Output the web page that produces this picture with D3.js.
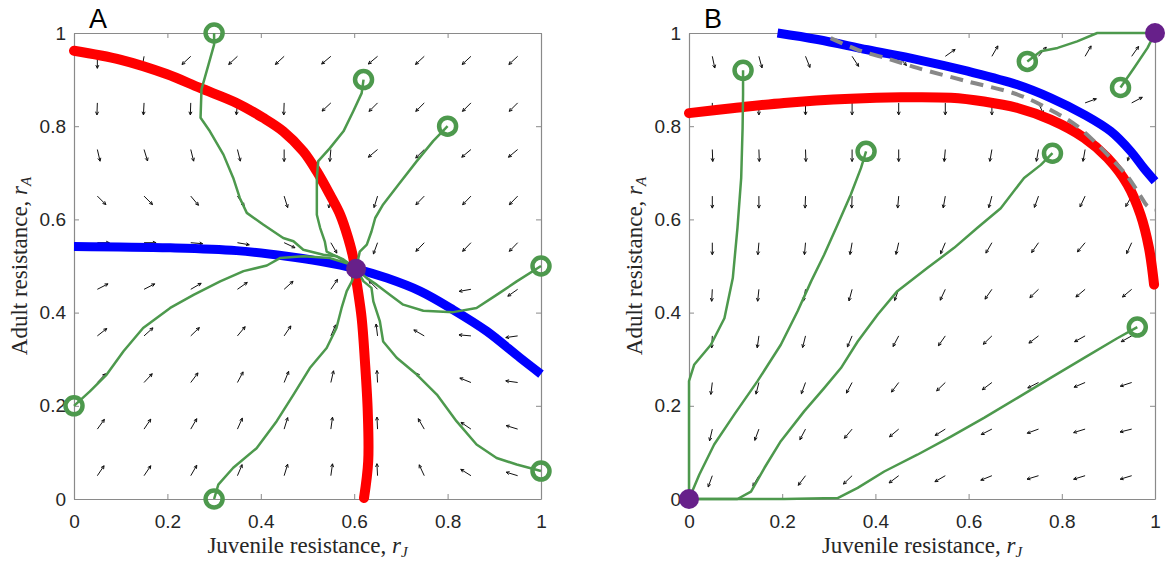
<!DOCTYPE html>
<html>
<head>
<meta charset="utf-8">
<script src="https://cdn.jsdelivr.net/npm/d3@7"></script>
<style>
body { margin: 0; background: #fff; }
</style>
</head>
<body>
<svg id="canvas" width="1168" height="563"></svg>
<script>
// tick marks and labels, same for both axes of both panels
let tickValues = [0, 0.2, 0.4, 0.6, 0.8, 1]
let tickLabels = ['0', '0.2', '0.4', '0.6', '0.8', '1']

// quiver grid (tails of the arrows)
let gridCols = [0.05, 0.15, 0.25, 0.35, 0.45, 0.55, 0.65, 0.75, 0.85, 0.95]
let gridRows = [0.95, 0.85, 0.75, 0.65, 0.55, 0.45, 0.35, 0.25, 0.15, 0.05]

// arrow directions in degrees (0 = right, 90 = up), one row per gridRows entry
let anglesA = [
  [-90, -100, -137, -137, -137, -140, -140, -137, -137, -137],
  [-92, -93, -92, -95, -92, -137, -135, -135, -135, -135],
  [-77, -73, -76, -76, -90, -95, -140, -135, -140, -140],
  [-45, -45, -50, -56, -73, -100, -107, -134, -134, -134],
  [0, 0, -5, -10, -25, -60, -110, -134, -134, -134],
  [27, 27, 30, 35, 42, 56, 135, 178, -170, -145],
  [38, 42, 44, 50, 56, 66, 97, 150, 175, -172],
  [47, 47, 53, 62, 68, 77, 93, 130, 158, 172],
  [54, 56, 60, 66, 73, 82, 93, 120, 146, 163],
  [56, 56, 60, 67, 73, 82, 93, 115, 148, 163]
]
let anglesB = [
  [-78, -75, -68, -57, -50, 35, 60, 50, 60, 55],
  [-90, -90, -90, -90, -90, -90, -90, -66, 20, 28],
  [-88, -88, -88, -90, -90, -95, -100, -100, -100, -110],
  [-90, -90, -92, -92, -95, -100, -105, -110, -115, -120],
  [-90, -95, -95, -100, -103, -113, -120, -125, -130, -115],
  [-93, -96, -100, -105, -110, -115, -125, -136, -140, -140],
  [-93, -98, -104, -113, -118, -125, -136, -143, -151, -151],
  [-97, -104, -110, -118, -127, -136, -143, -153, -157, -162],
  [-103, -110, -118, -130, -140, -148, -153, -160, -163, -166],
  [-110, -120, -127, -136, -143, -150, -158, -163, -163, -163]
]

// panel A curves
let redA = [[0, 0.962], [0.0985, 0.943], [0.198, 0.912], [0.27, 0.882], [0.348, 0.85], [0.405, 0.818],
  [0.448, 0.789], [0.491, 0.746], [0.52, 0.703], [0.548, 0.653], [0.57, 0.61], [0.587, 0.56],
  [0.598, 0.517], [0.605, 0.467], [0.616, 0.388], [0.623, 0.295], [0.629, 0.188], [0.63, 0.081], [0.621, 0.002]]
let blueA = [[0, 0.542], [0.206, 0.539], [0.348, 0.533], [0.455, 0.521], [0.527, 0.51], [0.604, 0.494],
  [0.67, 0.474], [0.741, 0.446], [0.812, 0.406], [0.884, 0.36], [0.955, 0.303], [1, 0.268]]
let fixedA = [[0.604, 0.494]]
let trajA = [
  [[0.3, 1], [0.3, 0.975], [0.288, 0.932], [0.273, 0.879], [0.271, 0.818], [0.291, 0.789], [0.32, 0.739],
   [0.341, 0.689], [0.355, 0.646], [0.37, 0.614], [0.405, 0.589], [0.448, 0.56], [0.47, 0.553],
   [0.491, 0.535], [0.534, 0.524], [0.562, 0.521], [0.58, 0.51], [0.604, 0.494]],
  [[0.62, 0.9], [0.616, 0.871], [0.598, 0.832], [0.577, 0.789], [0.548, 0.753], [0.523, 0.725],
   [0.52, 0.689], [0.52, 0.61], [0.527, 0.582], [0.537, 0.553], [0.541, 0.531], [0.555, 0.524],
   [0.577, 0.514], [0.604, 0.494]],
  [[0.8, 0.8], [0.769, 0.768], [0.734, 0.725], [0.695, 0.675], [0.662, 0.632], [0.645, 0.603],
   [0.637, 0.574], [0.627, 0.546], [0.612, 0.531], [0.604, 0.494]],
  [[1, 0.5], [0.948, 0.467], [0.905, 0.438], [0.862, 0.41], [0.812, 0.401], [0.748, 0.404],
   [0.705, 0.417], [0.677, 0.438], [0.648, 0.46], [0.627, 0.474], [0.604, 0.494]],
  [[1, 0.06], [0.948, 0.074], [0.905, 0.088], [0.862, 0.117], [0.819, 0.167], [0.777, 0.224],
   [0.734, 0.267], [0.691, 0.303], [0.662, 0.338], [0.655, 0.381], [0.641, 0.424], [0.637, 0.453],
   [0.62, 0.467], [0.604, 0.494]],
  [[0.3, 0], [0.309, 0.031], [0.341, 0.067], [0.391, 0.109], [0.434, 0.167], [0.47, 0.224],
   [0.505, 0.281], [0.541, 0.324], [0.562, 0.367], [0.573, 0.41], [0.584, 0.446], [0.595, 0.467], [0.604, 0.494]],
  [[0, 0.2], [0.034, 0.231], [0.07, 0.267], [0.106, 0.317], [0.148, 0.367], [0.206, 0.41], [0.256, 0.438],
   [0.313, 0.467], [0.363, 0.489], [0.413, 0.501], [0.441, 0.517], [0.491, 0.521], [0.548, 0.517],
   [0.584, 0.506], [0.604, 0.494]]
]

// panel B curves
let redB = [[0, 0.828], [0.097, 0.839], [0.204, 0.85], [0.347, 0.859], [0.455, 0.862], [0.562, 0.861],
  [0.633, 0.853], [0.705, 0.839], [0.776, 0.814], [0.848, 0.775], [0.898, 0.732], [0.941, 0.675],
  [0.969, 0.61], [0.987, 0.539], [0.998, 0.46]]
let blueB = [[0.19, 1], [0.276, 0.986], [0.383, 0.964], [0.49, 0.943], [0.598, 0.918], [0.705, 0.889],
  [0.776, 0.861], [0.848, 0.825], [0.905, 0.789], [0.948, 0.746], [0.976, 0.71], [1, 0.682]]
let greyB = [[0.304, 0.989], [0.362, 0.964], [0.433, 0.943], [0.49, 0.925], [0.598, 0.896], [0.705, 0.868],
  [0.776, 0.835], [0.833, 0.8], [0.898, 0.739], [0.941, 0.692], [0.969, 0.65], [0.984, 0.628], [1, 0.621]]
let fixedB = [[0, 0], [1, 1]]
let trajB = [
  [[0.116, 0.92], [0.116, 0.868], [0.115, 0.796], [0.112, 0.689], [0.104, 0.582], [0.094, 0.474],
   [0.076, 0.388], [0.047, 0.331], [0.011, 0.288], [0, 0.253], [0, 0]],
  [[0.38, 0.746], [0.369, 0.71], [0.347, 0.653], [0.319, 0.589], [0.29, 0.524], [0.262, 0.467],
   [0.233, 0.403], [0.197, 0.331], [0.147, 0.253], [0.097, 0.181], [0.054, 0.117], [0.022, 0.052], [0, 0]],
  [[0.78, 0.742], [0.755, 0.717], [0.719, 0.689], [0.669, 0.624], [0.619, 0.582], [0.569, 0.539],
   [0.512, 0.496], [0.447, 0.446], [0.405, 0.396], [0.362, 0.338], [0.326, 0.281], [0.29, 0.238],
   [0.247, 0.188], [0.197, 0.124], [0.162, 0.067], [0.133, 0.016], [0.104, 0], [0, 0]],
  [[0.962, 0.369], [0.919, 0.345], [0.848, 0.303], [0.776, 0.26], [0.705, 0.217], [0.633, 0.174],
   [0.562, 0.134], [0.49, 0.095], [0.419, 0.059], [0.362, 0.024], [0.319, 0.002], [0.204, 0], [0, 0]],
  [[0.726, 0.939], [0.755, 0.961], [0.791, 0.968], [0.833, 0.982], [0.876, 1], [1, 1]],
  [[0.926, 0.883], [0.955, 0.925], [0.984, 0.968], [1, 1]]
]

let canvas = d3.select('#canvas')
let green = '#4d994d'
let purple = '#67208a'
let boxColor = '#8a8a8a'
let textColor = '#262626'

let drawPanel = (p) => {
    let x = d3.scaleLinear().domain([0, 1]).range([p.left, p.right])
    let y = d3.scaleLinear().domain([0, 1]).range([499, 33])
    let g = canvas.append('g')

    // axes box with inward ticks on all four sides
    let styleAxis = (sel) => {
        sel.selectAll('path.domain').attr('stroke', boxColor)
        sel.selectAll('.tick line').attr('stroke', boxColor)
        sel.selectAll('.tick text')
            .attr('fill', textColor)
            .style('font-family', '"Liberation Sans", Arial, sans-serif')
            .style('font-size', '19px')
    }
    g.append('g').attr('transform', 'translate(0,499)')
        .call(d3.axisBottom(x).tickValues(tickValues).tickFormat((d, i) => tickLabels[i])
            .tickSizeInner(-5).tickSizeOuter(0).tickPadding(16))
        .call(styleAxis)
    g.append('g').attr('transform', 'translate(0,33)')
        .call(d3.axisTop(x).tickValues(tickValues).tickFormat('').tickSizeInner(-5).tickSizeOuter(0))
        .call(styleAxis)
    g.append('g').attr('transform', 'translate(' + p.left + ',0)')
        .call(d3.axisLeft(y).tickValues(tickValues).tickFormat((d, i) => tickLabels[i])
            .tickSizeInner(-5).tickSizeOuter(0).tickPadding(8))
        .call(styleAxis)
    g.append('g').attr('transform', 'translate(' + p.right + ',0)')
        .call(d3.axisRight(y).tickValues(tickValues).tickFormat('').tickSizeInner(-5).tickSizeOuter(0))
        .call(styleAxis)
    g.selectAll('.domain').attr('stroke-width', 1.2)

    // quiver arrows
    let arrowLen = 12
    let headLen = 3.5
    let arrows = []
    p.angles.forEach((row, i) => {
        row.forEach((a, j) => {
            arrows.push({ col: gridCols[j], row: gridRows[i], a: a })
        })
    })
    g.append('g').selectAll('path')
        .data(arrows)
        .enter()
        .append('path')
        .attr('d', (d) => {
            let r = d.a * Math.PI / 180
            let x0 = x(d.col), y0 = y(d.row)
            let x1 = x0 + arrowLen * Math.cos(r), y1 = y0 - arrowLen * Math.sin(r)
            let h1 = r + Math.PI - 0.45, h2 = r + Math.PI + 0.45
            return 'M' + x0 + ',' + y0 + 'L' + x1 + ',' + y1 +
                'M' + (x1 + headLen * Math.cos(h1)) + ',' + (y1 - headLen * Math.sin(h1)) +
                'L' + x1 + ',' + y1 +
                'L' + (x1 + headLen * Math.cos(h2)) + ',' + (y1 - headLen * Math.sin(h2))
        })
        .attr('fill', 'none')
        .attr('stroke', '#111')
        .attr('stroke-width', 1)

    let line = d3.line().x((d) => x(d[0])).y((d) => y(d[1]))
    let smooth = d3.line().x((d) => x(d[0])).y((d) => y(d[1])).curve(d3.curveCatmullRom)

    g.append('path').attr('d', smooth(p.red))
        .attr('fill', 'none').attr('stroke', '#ff0000').attr('stroke-width', 10)
        .attr('stroke-linecap', 'round').attr('stroke-linejoin', 'round')
    g.append('path').attr('d', smooth(p.blue))
        .attr('fill', 'none').attr('stroke', '#0000ff').attr('stroke-width', 9)
        .attr('stroke-linejoin', 'round')
    if (p.grey) {
        g.append('path').attr('d', smooth(p.grey))
            .attr('fill', 'none').attr('stroke', '#888888').attr('stroke-width', 4)
            .attr('stroke-dasharray', '13,8')
    }

    // trajectories
    g.append('g').selectAll('path')
        .data(p.traj)
        .enter()
        .append('path')
        .attr('d', line)
        .attr('fill', 'none')
        .attr('stroke', green)
        .attr('stroke-width', 2.5)
        .attr('stroke-linejoin', 'round')
    g.append('g').selectAll('circle')
        .data(p.traj)
        .enter()
        .append('circle')
        .attr('cx', (d) => x(d[0][0]))
        .attr('cy', (d) => y(d[0][1]))
        .attr('r', 8.5)
        .attr('fill', 'none')
        .attr('stroke', green)
        .attr('stroke-width', 4.5)

    g.append('g').selectAll('circle')
        .data(p.fixed)
        .enter()
        .append('circle')
        .attr('cx', (d) => x(d[0]))
        .attr('cy', (d) => y(d[1]))
        .attr('r', 10)
        .attr('fill', purple)

    // panel letter and axis labels
    g.append('text').attr('x', p.left + 15).attr('y', 28).text(p.letter)
        .style('font-family', '"Liberation Sans", Arial, sans-serif')
        .style('font-size', '27px').attr('fill', '#000')

    let serif = '"Liberation Serif", "Times New Roman", serif'
    let xl = g.append('text')
        .attr('x', (p.left + p.right) / 2).attr('y', 553)
        .attr('text-anchor', 'middle')
        .style('font-family', serif).style('font-size', '23px').attr('fill', textColor)
    xl.append('tspan').text('Juvenile resistance, ')
    xl.append('tspan').text('r').style('font-style', 'italic')
    xl.append('tspan').text('J').style('font-style', 'italic').style('font-size', '15px').attr('dy', 4)

    let yl = g.append('text')
        .attr('transform', 'translate(' + (p.left - 47) + ',266) rotate(-90)')
        .attr('text-anchor', 'middle')
        .style('font-family', serif).style('font-size', '23px').attr('fill', textColor)
    yl.append('tspan').text('Adult resistance, ')
    yl.append('tspan').text('r').style('font-style', 'italic')
    yl.append('tspan').text('A').style('font-style', 'italic').style('font-size', '15px').attr('dy', 4)
}

drawPanel({ letter: 'A', left: 74, right: 541, angles: anglesA, red: redA, blue: blueA,
    traj: trajA, fixed: fixedA })
drawPanel({ letter: 'B', left: 689, right: 1155, angles: anglesB, red: redB, blue: blueB,
    grey: greyB, traj: trajB, fixed: fixedB })
</script>
</body>
</html>
